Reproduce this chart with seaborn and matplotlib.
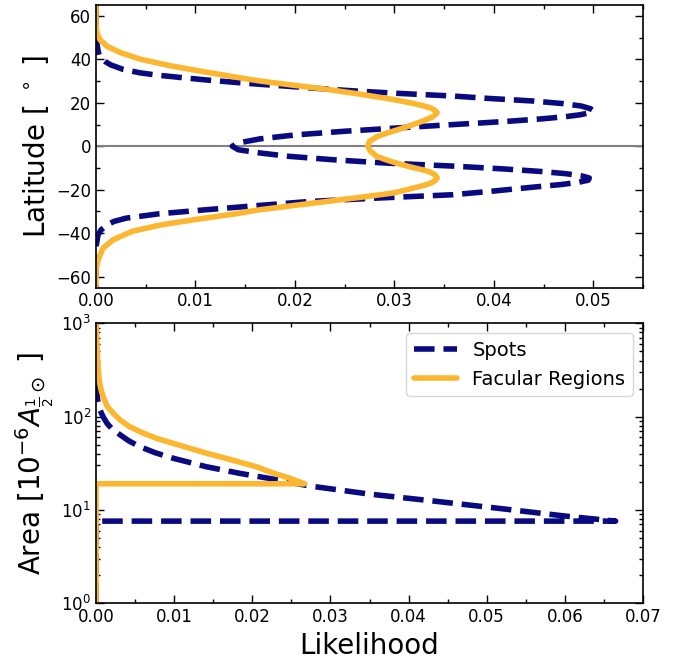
import numpy as np
import pandas as pd
import seaborn as sns
import matplotlib
matplotlib.use("Agg")
import matplotlib.pyplot as plt
from matplotlib.ticker import MultipleLocator, LogLocator, NullFormatter

# latitude distribution, spots
lat_spots = [65, 52, 47, 44, 42, 40.5, 39, 37.4, 35.4, 33.8, 32.8, 31.5, 30.5, 29.5,
             28.5, 27.7, 26.9, 25.5, 24.3, 23.1, 22.0, 20.8, 19.6, 18.5, 17.3, 16.4,
             15.5, 14.5, 13.6, 12.6, 11.6, 10.8, 10.0, 8.5, 6.9, 5.2, 3.4, 1.7, 0,
             -1.6, -3.1, -4.6, -6.2, -7.7, -9.2, -10.5, -11.6, -12.6, -13.6, -14.6,
             -15.6, -16.6, -17.6, -18.8, -20.6, -22.3, -23.8, -25.4, -27.2, -29.2,
             -31.1, -33.1, -34.6, -36.2, -38.5, -40.8, -46, -65]
lik_spots_lat = [0, 0, 0.0001, 0.0002, 0.0003, 0.0005, 0.0009, 0.0015, 0.0027, 0.0044,
                 0.0060, 0.0088, 0.0111, 0.0137, 0.0165, 0.0190, 0.0214, 0.0258, 0.0305,
                 0.0359, 0.0395, 0.0440, 0.0470, 0.0488, 0.0497, 0.0500, 0.0497, 0.0487,
                 0.0472, 0.0448, 0.0418, 0.0390, 0.0360, 0.0306, 0.0250, 0.0200, 0.0165,
                 0.0145, 0.0137, 0.0143, 0.0165, 0.0193, 0.0238, 0.0290, 0.0362, 0.0412,
                 0.0447, 0.0472, 0.0488, 0.0496, 0.0495, 0.0485, 0.0468, 0.0440, 0.0400,
                 0.0359, 0.0285, 0.0215, 0.0165, 0.0111, 0.0063, 0.0030, 0.0018, 0.0011,
                 0.0005, 0.0002, 0, 0]

# latitude distribution, facular regions
lat_fac = [65, 56, 52, 49, 46, 43, 40, 37, 34, 32, 30, 28, 26.2, 24, 21.5, 19.8, 18.5,
           17.5, 16.4, 15.4, 14.4, 13.2, 11.5, 9.5, 7.7, 6, 4.3, 2.2, 0, -2.3, -4.6,
           -6.3, -8, -9.5, -10.8, -11.9, -13.2, -14.6, -15.8, -16.9, -18.1, -19.6,
           -21.5, -23.5, -25.4, -27.3, -29.2, -31.1, -33.5, -36.2, -39.2, -43.1,
           -46.9, -52.3, -57, -65]
lik_fac_lat = [0, 0, 0.0001, 0.0004, 0.0011, 0.0025, 0.0045, 0.0075, 0.0112, 0.0138,
               0.0165, 0.0200, 0.0232, 0.0265, 0.0299, 0.0318, 0.0330, 0.0337, 0.0341,
               0.0343, 0.0341, 0.0337, 0.0328, 0.0316, 0.0304, 0.0292, 0.0282, 0.0275,
               0.0273, 0.0276, 0.0282, 0.0292, 0.0304, 0.0316, 0.0328, 0.0336, 0.0341,
               0.0343, 0.0341, 0.0337, 0.0329, 0.0316, 0.0299, 0.0266, 0.0232, 0.0198,
               0.0165, 0.0140, 0.0103, 0.0065, 0.0036, 0.0017, 0.0007, 0.0002, 0, 0]

# area distribution
area_spots = [1, 7.6, 7.6, 8.6, 10.4, 12.5, 14.8, 16.4, 18.1, 21.5, 24.7, 29.1, 35.8,
              41, 47.7, 55, 63.7, 73, 85, 100, 118, 151, 250, 1000]
lik_spots_area = [0, 0, 0.0665, 0.0601, 0.0516, 0.0431, 0.0350, 0.0311, 0.0273, 0.0226,
                  0.0184, 0.0141, 0.0099, 0.0076, 0.0056, 0.0042, 0.0031, 0.0021,
                  0.0014, 0.0009, 0.0005, 0.0002, 0, 0]

area_fac = [1, 19.1, 19.1, 20.5, 21.9, 25, 29.1, 32.5, 36.4, 40.5, 45.8, 52, 58.7, 67,
            78, 92, 108.7, 130, 164, 200, 247, 405, 1000]
lik_fac_area = [0, 0, 0.0267, 0.0257, 0.0248, 0.0226, 0.0205, 0.0184, 0.0163, 0.0142,
                0.0120, 0.0098, 0.0077, 0.0060, 0.0043, 0.0031, 0.0022, 0.0014, 0.0009,
                0.0006, 0.0004, 0.0002, 0]

sns.set_style("ticks", {"xtick.direction": "in", "ytick.direction": "in",
                        "axes.edgecolor": "black", "text.color": "black",
                        "axes.labelcolor": "black", "xtick.color": "black",
                        "ytick.color": "black"})
plt.rcParams["font.family"] = ["DejaVu Sans"]

navy = "#0a0a80"
orange = "#fdb62f"

fig = plt.figure(figsize=(6.91, 6.64), dpi=100)
ax1 = fig.add_axes([0.139, 0.567, 0.7915, 0.4255])
ax2 = fig.add_axes([0.139, 0.0914, 0.7915, 0.4216])

# top panel
ax1.axhline(0, color="gray", lw=1.5, zorder=1)
sns.lineplot(x=lik_spots_lat, y=lat_spots, ax=ax1, estimator=None, sort=False,
             color=navy, lw=4, ls="--")
sns.lineplot(x=lik_fac_lat, y=lat_fac, ax=ax1, estimator=None, sort=False,
             color=orange, lw=4)
ax1.set_xlim(0, 0.055)
ax1.set_ylim(-65, 65)
ax1.xaxis.set_major_locator(MultipleLocator(0.01))
ax1.xaxis.set_minor_locator(MultipleLocator(0.005))
ax1.yaxis.set_major_locator(MultipleLocator(20))
ax1.yaxis.set_minor_locator(MultipleLocator(10))
ax1.set_ylabel(r"Latitude [ $^\circ$ ]", fontsize=20)

# bottom panel
sns.lineplot(x=lik_spots_area, y=area_spots, ax=ax2, estimator=None, sort=False,
             color=navy, lw=4, ls="--", label="Spots")
sns.lineplot(x=lik_fac_area, y=area_fac, ax=ax2, estimator=None, sort=False,
             color=orange, lw=4, label="Facular Regions")
ax2.set_yscale("log")
ax2.set_xlim(0, 0.07)
ax2.set_ylim(1, 1000)
ax2.xaxis.set_major_locator(MultipleLocator(0.01))
ax2.xaxis.set_minor_locator(MultipleLocator(0.005))
ax2.yaxis.set_major_locator(LogLocator(base=10, numticks=20))
ax2.yaxis.set_minor_locator(LogLocator(base=10, subs=np.arange(2, 10), numticks=100))
ax2.yaxis.set_minor_formatter(NullFormatter())
ax2.set_ylabel(r"Area [$10^{-6}A_{\frac{1}{2}\odot}$ ]", fontsize=20)
ax2.set_xlabel("Likelihood", fontsize=20)
ax2.legend(loc="upper right", fontsize=14, frameon=True, handlelength=2.2)

for ax in (ax1, ax2):
    ax.tick_params(which="both", direction="in", top=True, right=True, labelsize=12)
    ax.tick_params(which="major", length=6, width=1)
    ax.tick_params(which="minor", length=3, width=1)
    for s in ax.spines.values():
        s.set_linewidth(1.2)

fig.savefig("out.png", dpi=100)
